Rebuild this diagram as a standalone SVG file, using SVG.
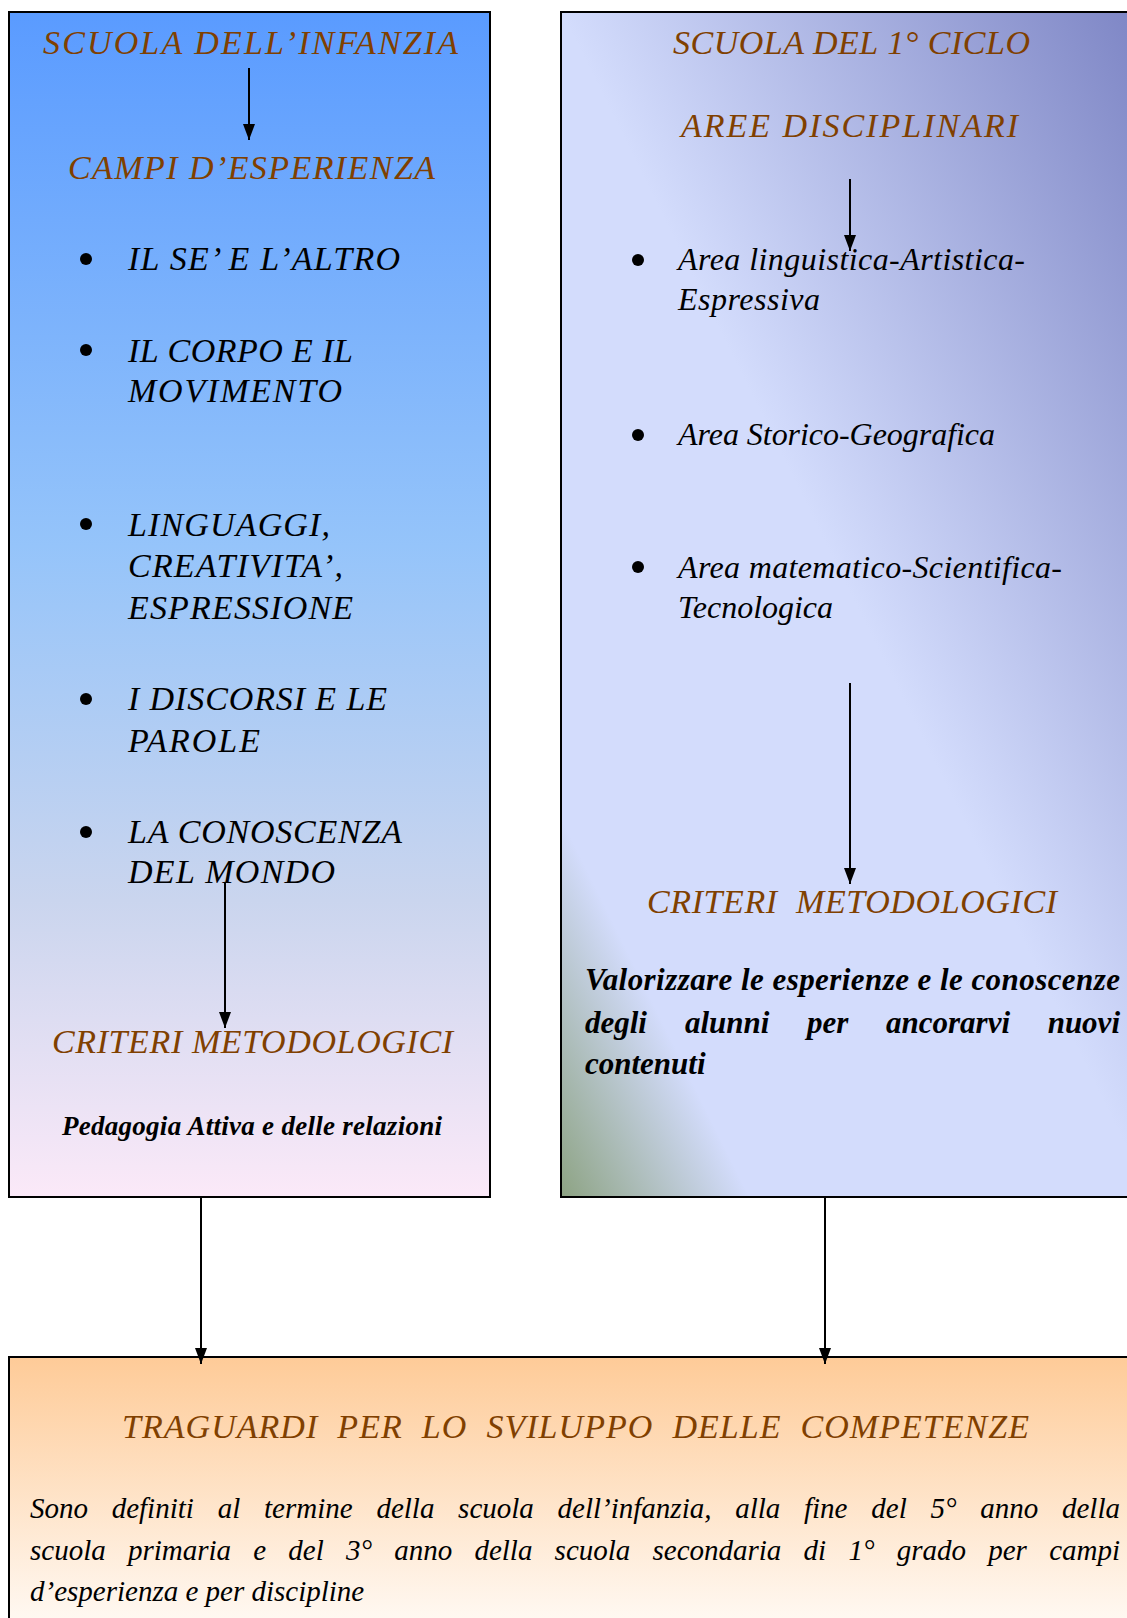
<svg xmlns="http://www.w3.org/2000/svg" width="1127" height="1618" viewBox="0 0 1127 1618">
<style>
  .box { stroke: #000; stroke-width: 2; }
  .head { font-family: "Liberation Serif", "Times New Roman", serif; font-style: italic; font-size: 34px; fill: #804000; }
  .item { font-family: "Liberation Serif", "Times New Roman", serif; font-style: italic; font-size: 34px; fill: #000; }
  .area { font-family: "Liberation Serif", "Times New Roman", serif; font-style: italic; font-size: 32px; fill: #000; }
  .bold { font-family: "Liberation Serif", "Times New Roman", serif; font-style: italic; font-weight: bold; fill: #000; }
  .body { font-family: "Liberation Serif", "Times New Roman", serif; font-style: italic; font-size: 29px; fill: #000; }
  .bullet { fill: #000; }
  .conn { stroke: #000; stroke-width: 2; fill: none; marker-end: url(#arrow); }
</style>
<defs>
  <linearGradient id="gLeft" x1="0" y1="0" x2="0" y2="1">
    <stop offset="0" stop-color="#5a9bff"/>
    <stop offset="0.45" stop-color="#95c4fa"/>
    <stop offset="0.75" stop-color="#cad5ee"/>
    <stop offset="1" stop-color="#fbe9f8"/>
  </linearGradient>
  <linearGradient id="gRight" x1="0" y1="1" x2="1" y2="0">
    <stop offset="0" stop-color="#8da383"/>
    <stop offset="0.16" stop-color="#d3dcfc"/>
    <stop offset="0.5" stop-color="#d3dcfc"/>
    <stop offset="1" stop-color="#7c84c4"/>
  </linearGradient>
  <linearGradient id="gBottom" x1="0" y1="0" x2="0" y2="1">
    <stop offset="0" stop-color="#fecb98"/>
    <stop offset="1" stop-color="#fffdfb"/>
  </linearGradient>
  <marker id="arrow" viewBox="0 0 16 12" refX="16" refY="6" markerWidth="16" markerHeight="12" markerUnits="userSpaceOnUse" orient="auto">
    <path d="M0,0 L16,6 L0,12 z" fill="#000"/>
  </marker>
</defs>

<g id="node-infanzia">
  <rect class="box" x="9" y="12" width="481" height="1185" fill="url(#gLeft)"/>
  <text class="head" x="43" y="54" textLength="415" lengthAdjust="spacing">SCUOLA DELL’INFANZIA</text>
  <text class="head" x="68" y="179" textLength="367" lengthAdjust="spacing">CAMPI D’ESPERIENZA</text>
  <circle class="bullet" cx="86" cy="259" r="6"/>
  <text class="item" x="128" y="270" textLength="272" lengthAdjust="spacing">IL SE’ E L’ALTRO</text>
  <circle class="bullet" cx="86" cy="350" r="6"/>
  <text class="item" x="128" y="362" textLength="225" lengthAdjust="spacing">IL CORPO E IL</text>
  <text class="item" x="128" y="402" textLength="214" lengthAdjust="spacing">MOVIMENTO</text>
  <circle class="bullet" cx="86" cy="524" r="6"/>
  <text class="item" x="128" y="536" textLength="202" lengthAdjust="spacing">LINGUAGGI,</text>
  <text class="item" x="128" y="577" textLength="215" lengthAdjust="spacing">CREATIVITA’,</text>
  <text class="item" x="128" y="619" textLength="225" lengthAdjust="spacing">ESPRESSIONE</text>
  <circle class="bullet" cx="86" cy="699" r="6"/>
  <text class="item" x="128" y="710" textLength="259" lengthAdjust="spacing">I DISCORSI E LE</text>
  <text class="item" x="128" y="752" textLength="132" lengthAdjust="spacing">PAROLE</text>
  <circle class="bullet" cx="86" cy="832" r="6"/>
  <text class="item" x="128" y="843" textLength="274" lengthAdjust="spacing">LA CONOSCENZA</text>
  <text class="item" x="128" y="883" textLength="207" lengthAdjust="spacing">DEL MONDO</text>
  <text class="head" x="52" y="1053" textLength="401" lengthAdjust="spacing">CRITERI METODOLOGICI</text>
  <text class="bold" x="62" y="1135" font-size="27" textLength="380" lengthAdjust="spacing">Pedagogia Attiva e delle relazioni</text>
</g>

<g id="node-ciclo">
  <rect class="box" x="561" y="12" width="590" height="1185" fill="url(#gRight)"/>
  <text class="head" x="673" y="54" textLength="357" lengthAdjust="spacing">SCUOLA DEL 1° CICLO</text>
  <text class="head" x="681" y="137" textLength="337" lengthAdjust="spacing">AREE DISCIPLINARI</text>
  <circle class="bullet" cx="638" cy="260" r="6"/>
  <text class="area" x="678" y="270" textLength="347" lengthAdjust="spacing">Area linguistica-Artistica-</text>
  <text class="area" x="678" y="310" textLength="142" lengthAdjust="spacing">Espressiva</text>
  <circle class="bullet" cx="638" cy="435" r="6"/>
  <text class="area" x="678" y="445" textLength="317" lengthAdjust="spacing">Area Storico-Geografica</text>
  <circle class="bullet" cx="638" cy="567" r="6"/>
  <text class="area" x="678" y="578" textLength="384" lengthAdjust="spacing">Area matematico-Scientifica-</text>
  <text class="area" x="678" y="618" textLength="155" lengthAdjust="spacing">Tecnologica</text>
  <text class="head" x="647" y="913" textLength="410" lengthAdjust="spacing" xml:space="preserve">CRITERI  METODOLOGICI</text>
  <text class="bold" x="585" y="990" font-size="31" textLength="535" lengthAdjust="spacing">Valorizzare le esperienze e le conoscenze</text>
  <text class="bold" y="1033" font-size="31">
    <tspan x="585">degli</tspan><tspan x="685">alunni</tspan><tspan x="807">per</tspan><tspan x="886">ancorarvi</tspan><tspan x="1120" text-anchor="end">nuovi</tspan>
  </text>
  <text class="bold" x="585" y="1074" font-size="31">contenuti</text>
</g>

<g id="node-traguardi">
  <rect class="box" x="9" y="1357" width="1142" height="290" fill="url(#gBottom)"/>
  <text class="head" x="122" y="1438" textLength="907" lengthAdjust="spacing" xml:space="preserve">TRAGUARDI  PER  LO  SVILUPPO  DELLE  COMPETENZE</text>
  <text class="body" y="1518">
    <tspan x="30">Sono</tspan><tspan x="111.7">definiti</tspan><tspan x="217.7">al</tspan><tspan x="264">termine</tspan><tspan x="376.4">della</tspan><tspan x="458.1">scuola</tspan><tspan x="557.6">dell’infanzia,</tspan><tspan x="735.2">alla</tspan><tspan x="804">fine</tspan><tspan x="871.3">del</tspan><tspan x="930.4">5°</tspan><tspan x="980.3">anno</tspan><tspan x="1120" text-anchor="end">della</tspan>
  </text>
  <text class="body" y="1560">
    <tspan x="30">scuola</tspan><tspan x="127.9">primaria</tspan><tspan x="253.2">e</tspan><tspan x="288.3">del</tspan><tspan x="345.9">3°</tspan><tspan x="394.2">anno</tspan><tspan x="474.4">della</tspan><tspan x="554.6">scuola</tspan><tspan x="652.5">secondaria</tspan><tspan x="803.6">di</tspan><tspan x="848.4">1°</tspan><tspan x="896.7">grado</tspan><tspan x="988.2">per</tspan><tspan x="1120" text-anchor="end">campi</tspan>
  </text>
  <text class="body" x="30" y="1601">d’esperienza e per discipline</text>
</g>

<g id="connectors">
  <line class="conn" x1="249" y1="68" x2="249" y2="140"/>
  <line class="conn" x1="225" y1="883" x2="225" y2="1028"/>
  <line class="conn" x1="850" y1="179" x2="850" y2="251"/>
  <line class="conn" x1="850" y1="683" x2="850" y2="884"/>
  <line class="conn" x1="201" y1="1197" x2="201" y2="1364"/>
  <line class="conn" x1="825" y1="1197" x2="825" y2="1364"/>
</g>
</svg>
